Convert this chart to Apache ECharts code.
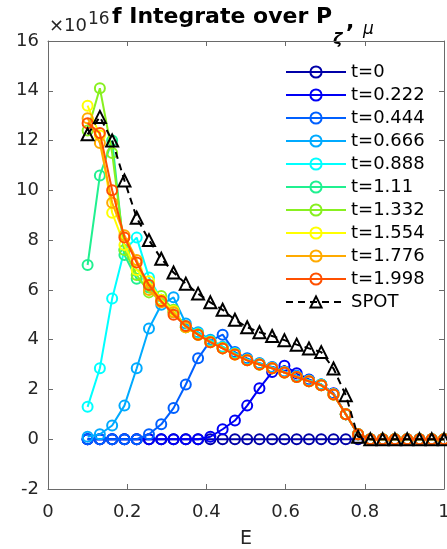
<!DOCTYPE html>
<html>
<head>
<meta charset="utf-8">
<script src="https://cdn.jsdelivr.net/npm/echarts@6/dist/echarts.min.js"></script>
<style>
  html, body { margin: 0; padding: 0; background: #fff; }
  #chart { width: 447px; height: 549px; }
</style>
</head>
<body>
<div id="chart"></div>
<script>
// Energy grid (E)
const energy = [0.100, 0.131, 0.162, 0.193, 0.224, 0.255, 0.286, 0.317, 0.348, 0.379,
                0.410, 0.441, 0.472, 0.503, 0.534, 0.566, 0.597, 0.628, 0.659, 0.690,
                0.721, 0.752, 0.783, 0.814, 0.845, 0.876, 0.907, 0.938, 0.969, 1.000];

// Distribution integrated over P_zeta and mu, in units of 1e16, one array per time
const f_t0000 = [0, 0, 0, 0, 0, 0, 0, 0, 0, 0,
                 0, 0, 0, 0, 0, 0, 0, 0, 0, 0,
                 0, 0, 0, 0, 0, 0, 0, 0, 0, 0];
const f_t0222 = [0, 0, 0, 0, 0, 0, 0, 0, 0, 0,
                 0.1, 0.4, 0.75, 1.35, 2.05, 2.7, 2.95, 2.65, 2.4, 2.2,
                 1.85, 1.0, 0.2, 0, 0, 0, 0, 0, 0, 0];
const f_t0444 = [0, 0, 0, 0, 0, 0.2, 0.6, 1.25, 2.2, 3.25,
                 3.95, 4.2, 3.5, 3.25, 3.05, 2.9, 2.72, 2.55, 2.38, 2.2,
                 1.82, 1.0, 0.2, 0, 0, 0, 0, 0, 0, 0];
const f_t0666 = [0.1, 0.2, 0.55, 1.35, 2.85, 4.45, 5.4, 5.7, 4.65, 4.3,
                 4.0, 3.72, 3.45, 3.2, 3.05, 2.88, 2.7, 2.52, 2.36, 2.2,
                 1.82, 1.0, 0.2, 0, 0, 0, 0, 0, 0, 0];
const f_t0888 = [1.3, 2.85, 5.65, 7.6, 8.1, 6.5, 5.6, 5.15, 4.55, 4.25,
                 3.95, 3.7, 3.45, 3.2, 3.02, 2.87, 2.7, 2.52, 2.35, 2.2,
                 1.82, 1.0, 0.2, 0, 0, 0, 0, 0, 0, 0];
const f_t1110 = [7.0, 10.6, 12.0, 7.4, 6.45, 6.1, 5.6, 5.1, 4.5, 4.2,
                 3.92, 3.67, 3.42, 3.18, 3.0, 2.85, 2.68, 2.5, 2.33, 2.17,
                 1.8, 1.0, 0.2, 0, 0, 0, 0, 0, 0, 0];
const f_t1332 = [12.4, 14.1, 11.5, 7.6, 6.6, 5.9, 5.75, 5.2, 4.5, 4.22,
                 3.92, 3.67, 3.42, 3.18, 3.0, 2.85, 2.68, 2.5, 2.33, 2.17,
                 1.8, 1.0, 0.2, 0, 0, 0, 0, 0, 0, 0];
const f_t1554 = [13.4, 12.2, 9.1, 7.8, 6.8, 6.35, 5.6, 5.15, 4.5, 4.2,
                 3.9, 3.65, 3.4, 3.17, 3.0, 2.85, 2.68, 2.5, 2.33, 2.17,
                 1.8, 1.0, 0.2, 0, 0, 0, 0, 0, 0, 0];
const f_t1776 = [12.9, 11.9, 9.5, 8.2, 7.2, 6.0, 5.5, 5.1, 4.5, 4.2,
                 3.9, 3.65, 3.4, 3.17, 3.0, 2.85, 2.68, 2.5, 2.33, 2.17,
                 1.8, 1.0, 0.2, 0, 0, 0, 0, 0, 0, 0];
const f_t1998 = [12.7, 12.3, 10.0, 8.1, 7.1, 6.2, 5.55, 5.0, 4.55, 4.2,
                 3.9, 3.65, 3.4, 3.17, 3.0, 2.85, 2.68, 2.5, 2.33, 2.17,
                 1.8, 1.0, 0.2, 0, 0, 0, 0, 0, 0, 0];
const f_spot  = [12.25, 12.95, 12.0, 10.4, 8.9, 8.0, 7.25, 6.7, 6.25, 5.85,
                 5.5, 5.2, 4.8, 4.5, 4.3, 4.15, 3.98, 3.8, 3.65, 3.5,
                 2.84, 1.77, 0.1, 0, 0, 0, 0, 0, 0, 0];

const seriesNames = ['t=0', 't=0.222', 't=0.444', 't=0.666', 't=0.888',
                     't=1.11', 't=1.332', 't=1.554', 't=1.776', 't=1.998'];
const seriesValues = [f_t0000, f_t0222, f_t0444, f_t0666, f_t0888,
                      f_t1110, f_t1332, f_t1554, f_t1776, f_t1998];
const spotName = 'SPOT';

// Axis ticks
const xMin = 0, xMax = 1, xStep = 0.2;
const yMin = -2, yMax = 16, yStep = 2;

// jet-like colour ramp for the time slices
const colors = ['#0000a8', '#0000f5', '#0060ff', '#00aaff', '#00ffff',
                '#20f090', '#88f020', '#ffff00', '#ffaa00', '#ff5000'];

const FONT = 'DejaVu Sans';
const AXIS_GRAY = '#6a6a6a';
const TEXT = '#262626';

function pairs(vals) {
  return energy.map((e, i) => [e, vals[i]]);
}

const series = seriesNames.map((name, k) => ({
  name: name,
  type: 'line',
  data: pairs(seriesValues[k]),
  xAxisIndex: 0,
  yAxisIndex: 0,
  symbol: 'circle',
  symbolSize: 10,
  showAllSymbol: true,
  lineStyle: { color: colors[k], width: 2 },
  itemStyle: { color: 'rgba(255,255,255,0)', borderColor: colors[k], borderWidth: 2 },
  emphasis: { disabled: true },
  z: 2 + k
}));

series.push({
  name: spotName,
  type: 'line',
  data: pairs(f_spot),
  xAxisIndex: 0,
  yAxisIndex: 0,
  symbol: 'triangle',
  symbolSize: 12,
  showAllSymbol: true,
  lineStyle: { color: '#000', width: 2, type: [7, 5] },
  itemStyle: { color: 'rgba(255,255,255,0)', borderColor: '#000', borderWidth: 2 },
  emphasis: { disabled: true },
  z: 20
});

const chart = echarts.init(document.getElementById('chart'), null, { renderer: 'canvas' });

const baseAxis = {
  axisLine: { show: true, onZero: false, lineStyle: { color: AXIS_GRAY, width: 1 } },
  axisTick: { show: true, inside: true, length: 5, lineStyle: { color: AXIS_GRAY } },
  splitLine: { show: false }
};

chart.setOption({
  animation: false,
  backgroundColor: '#fff',
  grid: { left: 48, right: 3, top: 41, bottom: 60, containLabel: false, outerBoundsMode: 'none' },
  xAxis: [
    Object.assign({}, baseAxis, {
      type: 'value', min: xMin, max: xMax, interval: xStep, position: 'bottom',
      name: 'E', nameLocation: 'middle', nameGap: 41,
      nameTextStyle: { fontFamily: FONT, fontSize: 19, color: TEXT },
      axisLabel: { fontFamily: FONT, fontSize: 18, color: TEXT, margin: 14 }
    }),
    Object.assign({}, baseAxis, {
      type: 'value', min: xMin, max: xMax, interval: xStep, position: 'top',
      axisLabel: { show: false }
    })
  ],
  yAxis: [
    Object.assign({}, baseAxis, {
      type: 'value', min: yMin, max: yMax, interval: yStep, position: 'left',
      axisLabel: { fontFamily: FONT, fontSize: 18, color: TEXT, margin: 9 }
    }),
    Object.assign({}, baseAxis, {
      type: 'value', min: yMin, max: yMax, interval: yStep, position: 'right',
      axisLabel: { show: false }
    })
  ],
  legend: {
    orient: 'vertical',
    left: 280,
    top: 58,
    itemWidth: 60,
    itemHeight: 14,
    itemGap: 5,
    selectedMode: false,
    textStyle: { fontFamily: FONT, fontSize: 18, color: '#000' },
    data: seriesNames.concat([spotName])
  },
  graphic: [
    { type: 'text', x: 49, y: 26, style: { text: '\u00d710', font: '18px "DejaVu Sans"', fill: TEXT, textAlign: 'left', textVerticalAlign: 'middle' } },
    { type: 'text', x: 88, y: 20, style: { text: '16', font: '17px "DejaVu Sans"', fill: TEXT, textAlign: 'left', textVerticalAlign: 'middle' } },
    { type: 'text', x: 112, y: 17, style: { text: 'f Integrate over P', font: 'bold 22px "DejaVu Sans"', fill: '#000', textAlign: 'left', textVerticalAlign: 'middle' } },
    { type: 'text', x: 333, y: 40, style: { text: '\u03b6', font: 'italic bold 16px "DejaVu Sans"', fill: '#000', textAlign: 'left', textVerticalAlign: 'middle' } },
    { type: 'text', x: 346, y: 22, style: { text: ',', font: 'bold 22px "DejaVu Sans"', fill: '#000', textAlign: 'left', textVerticalAlign: 'middle' } },
    { type: 'text', x: 363, y: 30, style: { text: '\u03bc', font: 'italic 17px "DejaVu Sans"', fill: '#000', textAlign: 'left', textVerticalAlign: 'middle' } }
  ],
  series: series
});
</script>
</body>
</html>
